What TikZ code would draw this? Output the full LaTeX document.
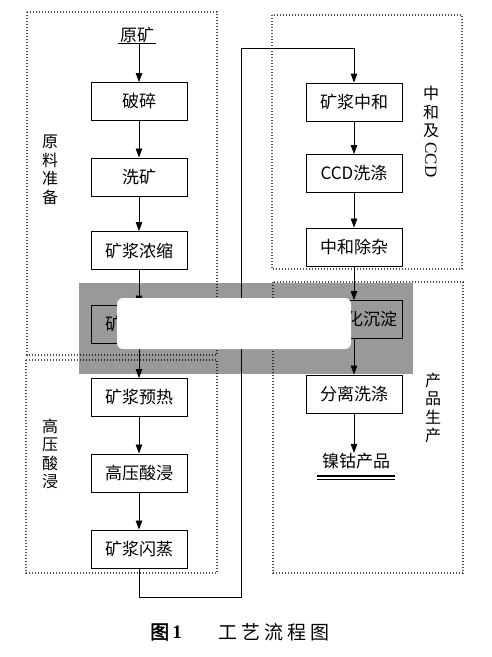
\documentclass[tikz,border=0pt]{standalone}
\usepackage{fontspec}
\setmainfont{Liberation Serif}
\newfontfamily\cjk[AutoFakeBold=2.5]{Noto Sans CJK SC}
\usetikzlibrary{arrows.meta}
\begin{document}
\begin{tikzpicture}[x=1pt,y=-1pt,
  box/.style={draw, line width=0.9pt, minimum width=96pt, minimum height=38pt, inner sep=0pt,
              font=\cjk\fontsize{17}{19}\selectfont},
  arr/.style={-{Triangle[length=9pt,width=6.5pt]}, line width=0.8pt},
  flow/.style={line width=1pt},
  region/.style={draw=black!70, line width=1.1pt, dash pattern=on 1.3pt off 1.7pt},
  side/.style={font=\cjk\fontsize{16}{18.5}\selectfont, align=center, inner sep=0pt},
  lbl/.style={font=\cjk\fontsize{17}{19}\selectfont, inner sep=0pt}]
\useasboundingbox (0,0) rectangle (492,657);
\fill[white] (0,0) rectangle (492,657);

% regions
\draw[region] (27,12) rectangle (217,355);
\draw[region] (26,360) rectangle (217,573);
\draw[region] (272,15) rectangle (462,269);
\draw[region] (273,282) rectangle (463,573);

% side labels
\node[side] (s1) at (50,170) {原\\料\\准\\备};
\node[side] (s2) at (50,454) {高\\压\\酸\\浸};
\node[side] (s3) at (431,112) {中\\和\\及};
\node[side, rotate=-90, font=\fontsize{17}{18}\selectfont] (s4) at (431,160) {CCD};
\node[side] (s5) at (433,408) {产\\品\\生\\产};

% left column
\node[lbl] (yk) at (137,35) {原矿};
\coordinate (ul1) at (118,43);
\coordinate (ul2) at (156,43);
\coordinate (ykb) at (139,43);
\draw[line width=0.9pt] (ul1) -- (ul2);
\node[box] (b1) at (139,101.5) {破碎};
\node[box] (b2) at (139,177) {洗矿};
\node[box] (b3) at (139,250.5) {矿浆浓缩};
\node[box] (b4) at (139,324) {矿浆储存};
\node[box] (b5) at (139,397.5) {矿浆预热};
\node[box] (b6) at (139,473) {高压酸浸};
\node[box] (b7) at (139,549) {矿浆闪蒸};

\draw[arr] (ykb) -- (b1.north);
\draw[arr] (b1) -- (b2);
\draw[arr] (b2) -- (b3);
\draw[arr] (b3) -- (b4);
\draw[arr] (b4) -- (b5);
\draw[arr] (b5) -- (b6);
\draw[arr] (b6) -- (b7);

% right column
\node[box] (r1) at (354,102) {矿浆中和};
\node[box] (r2) at (354,173.5) {CCD洗涤};
\node[box] (r3) at (354,247) {中和除杂};
\node[box] (r4) at (354,319.5) {\hspace{18pt}硫化沉淀};
\node[box] (r5) at (354,394) {分离洗涤};
\node[lbl] (pr) at (356,461) {镍钴产品};
\coordinate (pu1) at (317,476);
\coordinate (pu2) at (395,476);
\coordinate (pu3) at (317,479.5);
\coordinate (pu4) at (395,479.5);
\draw[line width=1.1pt] (pu1) -- (pu2);
\draw[line width=0.8pt] (pu3) -- (pu4);

\draw[arr] (r1) -- (r2);
\draw[arr] (r2) -- (r3);
\draw[arr] (r3) -- (r4);
\draw[arr] (r4) -- (r5);
\draw[arr] (r5.south) -- (r5.south |- pr.north);

% long connector
\coordinate (c1) at (139,597);
\coordinate (c2) at (241,597);
\coordinate (c3) at (241,48);
\coordinate (c4) at (354,48);
\draw[arr, flow] (b7.south) -- (c1) -- (c2) -- (c3) -- (c4) -- (r1.north);

% title
\node[inner sep=0pt, anchor=west] (t1) at (150,632) {\cjk\bfseries\fontsize{19}{21}\selectfont 图\,\normalfont\bfseries\fontsize{19}{21}\selectfont 1};
\node[inner sep=0pt, anchor=west] (t2) at (218,632) {\cjk\fontsize{19}{21}\selectfont 工\hspace{4pt}艺\hspace{4pt}流\hspace{4pt}程\hspace{4pt}图};

% watermark band
\fill[black, opacity=0.4] (79,283) rectangle (413,374);
\fill[white, rounded corners=6pt] (117,298) rectangle (351,349);
\end{tikzpicture}
\end{document}
